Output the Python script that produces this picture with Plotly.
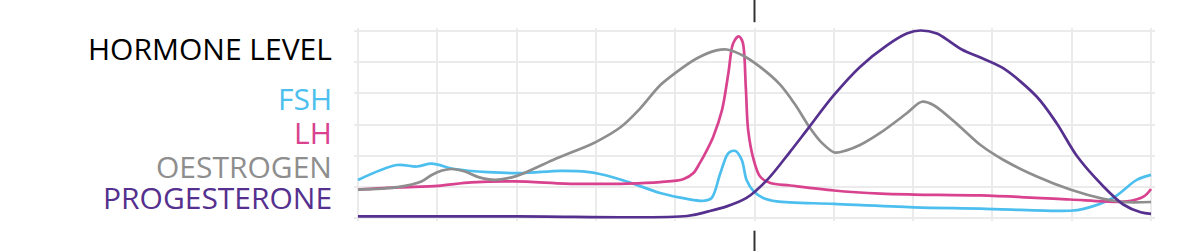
import plotly.graph_objects as go

# cycle position (0..10 grid units, ovulation at 5)
fsh_x = [0.00, 0.49, 0.74, 0.93, 1.22, 1.64, 2.07, 2.55, 2.89, 3.05, 3.39, 3.81, 4.15, 4.36, 4.46, 4.57, 4.67, 4.76, 4.84, 4.90, 4.99, 5.11, 5.28, 6.00, 7.01, 7.85, 8.98, 9.15, 9.52, 9.82, 10.0]
fsh_y = [1.22, 1.70, 1.65, 1.74, 1.57, 1.47, 1.44, 1.51, 1.48, 1.41, 1.17, 0.80, 0.61, 0.55, 0.64, 1.44, 2.08, 2.15, 1.86, 1.22, 0.85, 0.64, 0.53, 0.45, 0.34, 0.30, 0.23, 0.29, 0.64, 1.22, 1.38]

lh_x = [0.00, 0.51, 1.01, 1.43, 1.98, 2.61, 2.97, 3.39, 3.81, 4.10, 4.23, 4.31, 4.40, 4.48, 4.59, 4.67, 4.73, 4.80, 4.85, 4.89, 4.92, 4.99, 5.07, 5.20, 5.45, 6.00, 6.59, 7.01, 7.85, 8.98, 9.40, 9.70, 9.91, 10.0]
lh_y = [0.91, 0.98, 1.03, 1.14, 1.17, 1.10, 1.09, 1.10, 1.15, 1.24, 1.44, 1.76, 2.18, 2.61, 3.46, 4.64, 5.60, 5.83, 5.65, 4.21, 2.82, 1.86, 1.33, 1.12, 1.04, 0.88, 0.78, 0.75, 0.72, 0.59, 0.53, 0.53, 0.69, 0.93]

oe_x = [0.00, 0.50, 0.80, 0.93, 1.06, 1.18, 1.35, 1.52, 1.73, 1.94, 2.06, 2.46, 2.89, 3.01, 3.31, 3.56, 3.81, 4.02, 4.27, 4.52, 4.65, 4.86, 5.07, 5.32, 5.51, 5.70, 5.85, 6.01, 6.16, 6.33, 6.58, 6.92, 7.11, 7.26, 7.59, 7.85, 8.14, 8.56, 8.98, 9.40, 9.65, 10.0]
oe_y = [0.91, 0.99, 1.17, 1.38, 1.52, 1.57, 1.49, 1.31, 1.22, 1.30, 1.40, 1.86, 2.31, 2.45, 2.91, 3.52, 4.26, 4.69, 5.12, 5.38, 5.41, 5.21, 4.85, 4.29, 3.65, 2.89, 2.41, 2.10, 2.17, 2.34, 2.72, 3.36, 3.73, 3.62, 2.93, 2.34, 1.86, 1.33, 0.91, 0.61, 0.51, 0.51]

pg_x = [0.00, 2.00, 4.15, 4.42, 4.65, 4.90, 5.16, 5.45, 5.66, 6.00, 6.33, 6.67, 6.92, 7.09, 7.30, 7.47, 7.62, 7.85, 8.14, 8.56, 8.81, 9.07, 9.40, 9.65, 9.87, 10.0]
pg_y = [0.05, 0.05, 0.06, 0.21, 0.37, 0.64, 1.22, 2.13, 2.82, 3.94, 4.85, 5.54, 5.92, 6.02, 5.92, 5.65, 5.40, 5.15, 4.80, 3.89, 3.04, 1.97, 1.01, 0.43, 0.18, 0.13]

labels = ["FSH", "LH", "OESTROGEN", "PROGESTERONE"]
label_y = [3.83, 2.74, 1.66, 0.66]
title_text = "HORMONE LEVEL"
title_y = 5.45

colors = ["#4DBFEF", "#D8428F", "#8E8E8E", "#55308E"]
series = [(fsh_x, fsh_y), (lh_x, lh_y), (oe_x, oe_y), (pg_x, pg_y)]

fig = go.Figure()
for (xs, ys), c, name in zip(series, colors, labels):
    fig.add_trace(go.Scatter(x=xs, y=ys, mode="lines", name=name,
                             line=dict(color=c, width=2.7, shape="spline", smoothing=0.9),
                             hoverinfo="skip"))

font_family = "Open Sans"
fig.add_annotation(text=title_text, xref="paper", yref="y", x=-0.025, y=title_y,
                   xanchor="right", yanchor="middle", showarrow=False,
                   font=dict(family=font_family, size=30, color="#000000"))
for name, yv, c in zip(labels, label_y, colors):
    fig.add_annotation(text=name, xref="paper", yref="y", x=-0.025, y=yv,
                       xanchor="right", yanchor="middle", showarrow=False,
                       font=dict(family=font_family, size=30, color=c))

# ovulation markers
for y0, y1 in [(1.03, 1.16), (-0.05, -0.17)]:
    fig.add_shape(type="line", xref="paper", yref="paper", x0=0.5, x1=0.5, y0=y0, y1=y1,
                  line=dict(color="#333333", width=2))

fig.update_xaxes(range=[-0.05, 10.05], dtick=1, tick0=0, showgrid=True, gridcolor="#ebebeb",
                 gridwidth=2, showticklabels=False, zeroline=False, showline=False, ticks="")
fig.update_yaxes(range=[-0.1, 6.1], dtick=1, tick0=0, showgrid=True, gridcolor="#ebebeb",
                 gridwidth=2, showticklabels=False, zeroline=False, showline=False, ticks="")
fig.update_layout(width=1192, height=251, margin=dict(l=354, r=37, t=28, b=30),
                  plot_bgcolor="white", paper_bgcolor="white", showlegend=False)

fig.write_html("out.html")
